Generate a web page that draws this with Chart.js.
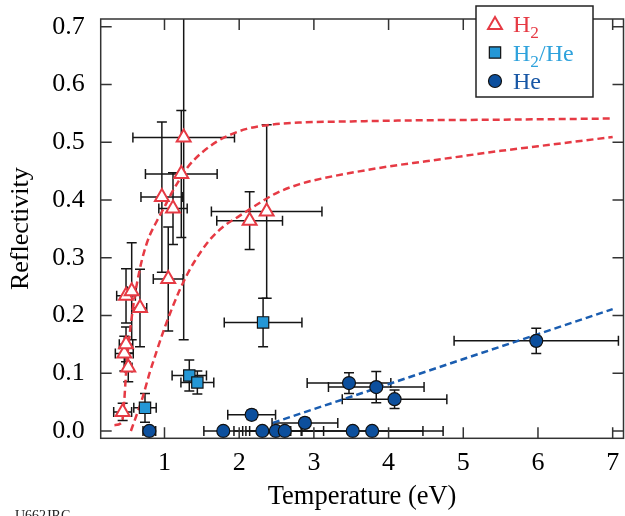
<!DOCTYPE html>
<html>
<head>
<meta charset="utf-8">
<script src="https://cdn.jsdelivr.net/npm/chart.js@4"></script>
<style>
  html, body { margin: 0; padding: 0; background: #fff; }
</style>
</head>
<body>
<canvas id="myChart" width="625" height="516"></canvas>
<script>
const xTicks = [1, 2, 3, 4, 5, 6, 7];
const yTicks = [0, 0.1, 0.2, 0.3, 0.4, 0.5, 0.6, 0.7];

// H2 plasma
const h2T    = [0.44, 0.515, 0.462, 0.485, 0.672, 0.485, 0.561, 1.05, 1.114, 0.965, 1.225, 1.257, 2.14, 2.368];
const h2R    = [0.033, 0.11, 0.134, 0.150, 0.213, 0.234, 0.242, 0.263, 0.385, 0.405, 0.445, 0.508, 0.364, 0.380];
const h2TErr = [0.12, 0.05, 0.12, 0.09, 0.09, 0.125, 0.06, 0.2, 0.19, 0.28, 0.48, 0.68, 0.44, 0.74];
const h2RErr = [0.015, 0.025, 0.03, 0.03, 0.067, 0.047, 0.084, 0.09, 0.062, 0.13, 0.11, 0.35, 0.05, 0.15];

// H2/He mixture
const mixT    = [0.739, 1.332, 1.44, 2.32];
const mixR    = [0.040, 0.096, 0.084, 0.188];
const mixTErr = [0.15, 0.23, 0.22, 0.52];
const mixRErr = [0.025, 0.027, 0.02, 0.042];

// He plasma
const heT    = [0.797, 1.787, 2.167, 2.31, 2.49, 2.61, 2.88, 3.47, 3.52, 3.78, 3.835, 4.08, 5.977];
const heR    = [0, 0, 0.028, 0, 0, 0, 0.014, 0.083, 0, 0, 0.076, 0.055, 0.156];
const heTErr = [0.085, 0.26, 0.32, 0.38, 0.35, 0.52, 0.44, 0.56, 0.94, 0.95, 0.64, 0.70, 1.1];
const heRErr = [0, 0, 0.008, 0, 0, 0, 0.008, 0.018, 0, 0, 0.027, 0.016, 0.022];

// model curves
const h2FitUpperT = [0.33, 0.43, 0.46, 0.48, 0.5, 0.55, 0.6, 0.65, 0.7, 0.75, 0.8, 0.9, 1.0, 1.1, 1.2, 1.3, 1.4, 1.5, 1.7, 1.9, 2.1, 2.4, 2.8, 3.5, 4.5, 5.5, 7.0];
const h2FitUpperR = [0.01, 0.015, 0.05, 0.09, 0.125, 0.185, 0.232, 0.268, 0.297, 0.32, 0.338, 0.364, 0.388, 0.413, 0.435, 0.455, 0.47, 0.482, 0.501, 0.514, 0.523, 0.530, 0.534, 0.536, 0.538, 0.539, 0.541];
const h2FitLowerT = [0.55, 0.6, 0.7, 0.8, 0.9, 1.0, 1.1, 1.2, 1.3, 1.4, 1.6, 1.8, 2.0, 2.25, 2.5, 2.8, 3.0, 3.5, 4.0, 4.5, 5.0, 5.5, 6.0, 6.5, 7.0];
const h2FitLowerR = [0.0, 0.018, 0.055, 0.1, 0.14, 0.178, 0.212, 0.243, 0.27, 0.293, 0.33, 0.355, 0.372, 0.393, 0.412, 0.427, 0.434, 0.447, 0.458, 0.467, 0.476, 0.485, 0.493, 0.501, 0.509];
const heFitT = [2.45, 7.0];
const heFitR = [0.014, 0.211];

const RED = '#e63a44';
const LIGHT_BLUE = '#2497d6';
const DARK_BLUE = '#0c4f9d';

function points(xs, ys) {
    return xs.map((x, i) => ({ x: x, y: ys[i] }));
}

const errSets = [
    { t: h2T, r: h2R, tErr: h2TErr, rErr: h2RErr },
    { t: mixT, r: mixR, tErr: mixTErr, rErr: mixRErr },
    { t: heT, r: heR, tErr: heTErr, rErr: heRErr },
];

const errorBars = {
    id: 'errorBars',
    beforeDatasetsDraw(chart) {
        const { ctx, chartArea, scales: { x, y } } = chart;
        const cap = 5;
        ctx.save();
        ctx.beginPath();
        ctx.rect(chartArea.left, chartArea.top, chartArea.right - chartArea.left, chartArea.bottom - chartArea.top);
        ctx.clip();
        ctx.strokeStyle = '#151515';
        ctx.lineWidth = 1.5;
        errSets.forEach(s => {
            s.t.forEach((t, i) => {
                const px = x.getPixelForValue(t);
                const py = y.getPixelForValue(s.r[i]);
                ctx.beginPath();
                if (s.tErr[i] > 0) {
                    const x0 = x.getPixelForValue(t - s.tErr[i]);
                    const x1 = x.getPixelForValue(t + s.tErr[i]);
                    ctx.moveTo(x0, py); ctx.lineTo(x1, py);
                    ctx.moveTo(x0, py - cap); ctx.lineTo(x0, py + cap);
                    ctx.moveTo(x1, py - cap); ctx.lineTo(x1, py + cap);
                }
                if (s.rErr[i] > 0) {
                    const y0 = y.getPixelForValue(s.r[i] - s.rErr[i]);
                    const y1 = y.getPixelForValue(s.r[i] + s.rErr[i]);
                    ctx.moveTo(px, y0); ctx.lineTo(px, y1);
                    ctx.moveTo(px - cap, y0); ctx.lineTo(px + cap, y0);
                    ctx.moveTo(px - cap, y1); ctx.lineTo(px + cap, y1);
                }
                ctx.stroke();
            });
        });
        ctx.restore();
    }
};

// box around the plot with inward ticks on every side
const frame = {
    id: 'frame',
    afterDatasetsDraw(chart) {
        const { ctx, chartArea: a, scales: { x, y } } = chart;
        const len = 11;
        ctx.save();
        ctx.strokeStyle = '#333';
        ctx.lineWidth = 1.5;
        ctx.strokeRect(a.left, a.top, a.right - a.left, a.bottom - a.top);
        ctx.beginPath();
        xTicks.forEach(v => {
            const px = x.getPixelForValue(v);
            ctx.moveTo(px, a.bottom); ctx.lineTo(px, a.bottom - len);
            ctx.moveTo(px, a.top); ctx.lineTo(px, a.top + len);
        });
        yTicks.forEach(v => {
            const py = y.getPixelForValue(v);
            ctx.moveTo(a.left, py); ctx.lineTo(a.left + len, py);
            ctx.moveTo(a.right, py); ctx.lineTo(a.right - len, py);
        });
        ctx.stroke();
        ctx.restore();
    }
};

function drawRich(ctx, parts, x, y, size) {
    parts.forEach(p => {
        const s = p.sub ? size * 0.72 : size;
        ctx.font = s + "px 'Liberation Serif'";
        ctx.fillText(p.text, x, p.sub ? y + size * 0.25 : y);
        x += ctx.measureText(p.text).width;
    });
}

const legendBox = {
    id: 'legendBox',
    afterDraw(chart) {
        const ctx = chart.ctx;
        const rows = [
            { style: 'triangle', fill: '#fff', stroke: RED, radius: 8, color: RED,
              parts: [{ text: 'H' }, { text: '2', sub: true }] },
            { style: 'rect', fill: LIGHT_BLUE, stroke: '#111', radius: 8, color: '#2fa2dc',
              parts: [{ text: 'H' }, { text: '2', sub: true }, { text: '/He' }] },
            { style: 'circle', fill: DARK_BLUE, stroke: '#111', radius: 6.5, color: '#1857a5',
              parts: [{ text: 'He' }] },
        ];
        ctx.save();
        ctx.fillStyle = '#fff';
        ctx.fillRect(476, 6, 117, 91);
        ctx.strokeStyle = '#222';
        ctx.lineWidth = 1.5;
        ctx.strokeRect(476, 6, 117, 91);
        rows.forEach((r, i) => {
            const cy = 24 + i * 28.5;
            ctx.fillStyle = r.fill;
            ctx.strokeStyle = r.stroke;
            ctx.lineWidth = r.style === 'triangle' ? 2 : 1.2;
            Chart.helpers.drawPoint(ctx, { pointStyle: r.style, radius: r.radius, rotation: 0, borderWidth: ctx.lineWidth }, 495, r.style === 'triangle' ? cy + 1 : cy);
            ctx.fillStyle = r.color;
            ctx.textBaseline = 'alphabetic';
            drawRich(ctx, r.parts, 513, cy + 8, 24);
        });
        ctx.fillStyle = '#222';
        ctx.font = "14px 'Liberation Serif'";
        ctx.fillText('U662JRC', 15, 520);
        ctx.restore();
    }
};

Chart.defaults.font.family = "'Liberation Serif', 'Times New Roman', serif";
Chart.defaults.color = '#000';

const ctx = document.getElementById('myChart');

new Chart(ctx, {
    type: 'scatter',
    data: {
        datasets: [
            {
                label: 'H2',
                data: points(h2T, h2R),
                pointStyle: 'triangle',
                pointRadius: 8,
                pointBackgroundColor: '#fff',
                pointBorderColor: RED,
                pointBorderWidth: 2,
            },
            {
                label: 'H2/He',
                data: points(mixT, mixR),
                pointStyle: 'rect',
                pointRadius: 8,
                pointBackgroundColor: LIGHT_BLUE,
                pointBorderColor: '#111',
                pointBorderWidth: 1.2,
            },
            {
                label: 'He',
                data: points(heT, heR),
                pointStyle: 'circle',
                pointRadius: 6.5,
                pointBackgroundColor: DARK_BLUE,
                pointBorderColor: '#111',
                pointBorderWidth: 1.2,
            },
            {
                data: points(h2FitUpperT, h2FitUpperR),
                showLine: true,
                pointRadius: 0,
                borderColor: RED,
                borderWidth: 2.5,
                borderDash: [7, 4],
                cubicInterpolationMode: 'monotone',
            },
            {
                data: points(h2FitLowerT, h2FitLowerR),
                showLine: true,
                pointRadius: 0,
                borderColor: RED,
                borderWidth: 2.5,
                borderDash: [7, 4],
                cubicInterpolationMode: 'monotone',
            },
            {
                data: points(heFitT, heFitR),
                showLine: true,
                pointRadius: 0,
                borderColor: '#1a5db0',
                borderWidth: 2.5,
                borderDash: [7, 4],
            },
        ]
    },
    options: {
        responsive: false,
        animation: false,
        events: [],
        layout: {
            autoPadding: false,
            padding: { top: 19, right: 1.5, left: 0, bottom: 0 }
        },
        plugins: {
            legend: { display: false },
            tooltip: { enabled: false },
        },
        scales: {
            x: {
                type: 'linear',
                min: 0.146,
                max: 7.145,
                grid: { display: false, drawTicks: false },
                border: { display: false },
                afterBuildTicks: scale => { scale.ticks = xTicks.map(v => ({ value: v })); },
                afterFit: scale => {
                    scale.height = 77.7;
                    scale.paddingLeft = 0;
                    scale.paddingRight = 0;
                },
                ticks: {
                    padding: 9,
                    font: { size: 26 },
                    callback: v => String(v),
                },
                title: {
                    display: true,
                    text: 'Temperature (eV)',
                    font: { size: 26.5 },
                    padding: { top: 0, bottom: 3 },
                },
            },
            y: {
                type: 'linear',
                min: -0.0127,
                max: 0.7133,
                grid: { display: false, drawTicks: false },
                border: { display: false },
                afterBuildTicks: scale => { scale.ticks = yTicks.map(v => ({ value: v })); },
                afterFit: scale => {
                    scale.width = 100.7;
                    scale.paddingTop = 0;
                    scale.paddingBottom = 0;
                },
                ticks: {
                    padding: 16,
                    font: { size: 26 },
                    callback: v => v.toFixed(1),
                },
                title: {
                    display: true,
                    text: 'Reflectivity',
                    font: { size: 26 },
                    padding: { top: 6, bottom: 0 },
                },
            }
        }
    },
    plugins: [errorBars, frame, legendBox]
});
</script>
</body>
</html>
